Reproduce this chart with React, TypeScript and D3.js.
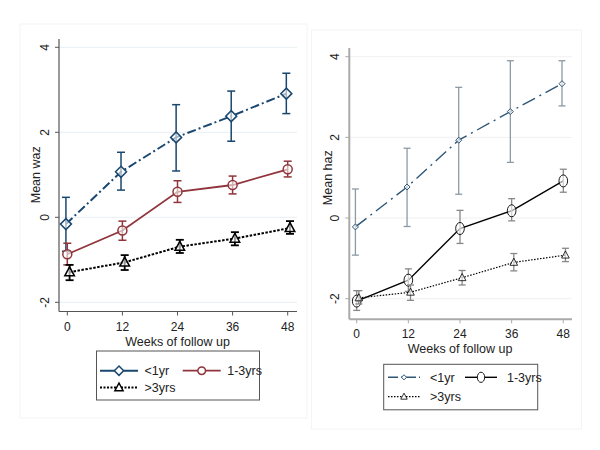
import React, { useEffect, useRef } from 'react';
import * as d3 from 'd3';

// weeks of follow up
const weeks = [0, 12, 24, 36, 48];
const weekTicks = [0, 12, 24, 36, 48];
const yTicks = [-2, 0, 2, 4];
const groups = ['<1yr', '1-3yrs', '>3yrs'];
// small horizontal dodge per group (weeks)
const dodge = [-0.3, 0, 0.5];

// mean waz (left panel) with CI
const wazLt1 = [-0.16, 1.07, 1.88, 2.38, 2.91];
const wazLt1Lo = [-0.8, 0.64, 1.09, 1.79, 2.44];
const wazLt1Hi = [0.47, 1.53, 2.65, 2.97, 3.39];
const waz13 = [-0.87, -0.31, 0.6, 0.76, 1.13];
const waz13Lo = [-1.12, -0.54, 0.35, 0.55, 0.95];
const waz13Hi = [-0.61, -0.09, 0.86, 0.97, 1.32];
const wazGt3 = [-1.29, -1.06, -0.69, -0.5, -0.25];
const wazGt3Lo = [-1.48, -1.24, -0.84, -0.66, -0.39];
const wazGt3Hi = [-1.12, -0.89, -0.53, -0.35, -0.09];

// mean haz (right panel) with CI
const hazLt1 = [-0.22, 0.77, 1.93, 2.64, 3.33];
const hazLt1Lo = [-0.92, -0.21, 0.59, 1.38, 2.78];
const hazLt1Hi = [0.72, 1.73, 3.24, 3.9, 3.9];
const haz13 = [-2.06, -1.54, -0.26, 0.18, 0.92];
const haz13Lo = [-2.29, -1.82, -0.63, -0.07, 0.64];
const haz13Hi = [-1.8, -1.26, 0.19, 0.48, 1.21];
const hazGt3 = [-1.98, -1.84, -1.48, -1.1, -0.92];
const hazGt3Lo = [-2.13, -2.04, -1.66, -1.31, -1.08];
const hazGt3Hi = [-1.8, -1.66, -1.3, -0.88, -0.75];

const FONT = 'Arial, "Liberation Sans", sans-serif';

function markerPath(kind, size) {
  if (kind === 'diamond') {
    return `M0,${-size}L${size},0L0,${size}L${-size},0Z`;
  }
  if (kind === 'triangle') {
    const h = size * 1.1;
    return `M0,${-h}L${size},${h * 0.7}L${-size},${h * 0.7}Z`;
  }
  if (kind === 'ellipse') {
    const rx = size * 0.72, ry = size;
    return `M${-rx},0A${rx},${ry} 0 1,0 ${rx},0A${rx},${ry} 0 1,0 ${-rx},0Z`;
  }
  return d3.arc()({ innerRadius: 0, outerRadius: size, startAngle: 0, endAngle: Math.PI * 2 });
}

function drawPanel(svg, p) {
  const g = svg.append('g');
  const x = d3.scaleLinear().domain([0, 48]).range(p.xRange);
  const y = d3.scaleLinear().domain([-2, 4]).range(p.yRange);

  // faint panel frame
  g.append('rect')
    .attr('x', p.frame[0]).attr('y', p.frame[1])
    .attr('width', p.frame[2]).attr('height', p.frame[3])
    .attr('fill', 'none').attr('stroke', '#f3f4f6').attr('stroke-width', 1);

  // grid
  g.selectAll('.grid').data(yTicks).enter().append('line')
    .attr('x1', p.axisX).attr('x2', p.plotRight)
    .attr('y1', d => y(d)).attr('y2', d => y(d))
    .attr('stroke', p.gridColor).attr('stroke-width', 1);

  // axes
  g.append('line').attr('x1', p.axisX).attr('x2', p.axisX)
    .attr('y1', p.axisTop).attr('y2', p.axisBottom)
    .attr('stroke', p.axisColor).attr('stroke-width', p.axisWidth);
  g.append('line').attr('x1', p.axisX).attr('x2', p.plotRight)
    .attr('y1', p.axisBottom).attr('y2', p.axisBottom)
    .attr('stroke', p.axisColor).attr('stroke-width', p.axisWidth);

  // y ticks + rotated labels
  g.selectAll('.ytick').data(yTicks).enter().append('line')
    .attr('x1', p.axisX - 4).attr('x2', p.axisX)
    .attr('y1', d => y(d)).attr('y2', d => y(d))
    .attr('stroke', p.axisColor).attr('stroke-width', 1);
  g.selectAll('.ylab').data(yTicks).enter().append('text')
    .attr('transform', d => `translate(${p.axisX - 10},${y(d)}) rotate(-90)`)
    .attr('text-anchor', 'middle')
    .attr('font-family', FONT).attr('font-size', 12).attr('fill', '#222')
    .text(d => d);

  // x ticks + labels
  g.selectAll('.xtick').data(weekTicks).enter().append('line')
    .attr('x1', d => x(d)).attr('x2', d => x(d))
    .attr('y1', p.axisBottom).attr('y2', p.axisBottom + 4)
    .attr('stroke', p.axisColor).attr('stroke-width', 1);
  g.selectAll('.xlab').data(weekTicks).enter().append('text')
    .attr('x', d => x(d)).attr('y', p.axisBottom + 19)
    .attr('text-anchor', 'middle')
    .attr('font-family', FONT).attr('font-size', 12).attr('fill', '#222')
    .text(d => d);

  g.append('text')
    .attr('x', (p.xRange[0] + p.xRange[1]) / 2).attr('y', p.axisBottom + 34)
    .attr('text-anchor', 'middle')
    .attr('font-family', FONT).attr('font-size', 12.5).attr('fill', '#222')
    .text('Weeks of follow up');

  g.append('text')
    .attr('transform', `translate(${p.yTitleX},${(y(-2) + y(4)) / 2}) rotate(-90)`)
    .attr('text-anchor', 'middle')
    .attr('font-family', FONT).attr('font-size', 12.5).attr('fill', '#222')
    .text(p.yTitle);

  // series
  p.series.forEach((s, i) => {
    const pts = weeks.map((w, j) => ({ w: w + dodge[i], m: s.mean[j], lo: s.lo[j], hi: s.hi[j] }));
    const line = d3.line().x(d => x(d.w)).y(d => y(d.m));
    g.append('path').attr('d', line(pts))
      .attr('fill', 'none').attr('stroke', s.color)
      .attr('stroke-width', s.width).attr('stroke-dasharray', s.dash);

    const eb = g.append('g');
    pts.forEach(d => {
      eb.append('line').attr('x1', x(d.w)).attr('x2', x(d.w))
        .attr('y1', y(d.lo)).attr('y2', y(d.hi))
        .attr('stroke', s.errColor).attr('stroke-width', s.errWidth);
      [d.lo, d.hi].forEach(v => {
        eb.append('line').attr('x1', x(d.w) - s.cap).attr('x2', x(d.w) + s.cap)
          .attr('y1', y(v)).attr('y2', y(v))
          .attr('stroke', s.errColor).attr('stroke-width', s.errWidth);
      });
    });

    g.selectAll(null).data(pts).enter().append('path')
      .attr('transform', d => `translate(${x(d.w)},${y(d.m)})`)
      .attr('d', markerPath(s.marker, s.msize))
      .attr('fill', 'white').attr('fill-opacity', 0.6)
      .attr('stroke', s.color).attr('stroke-width', s.mWidth);
  });

  // legend
  const L = p.legend;
  g.append('rect').attr('x', L.x).attr('y', L.y).attr('width', L.w).attr('height', L.h)
    .attr('fill', 'white').attr('stroke', '#555').attr('stroke-width', 1);
  p.series.forEach((s, i) => {
    const cx = L.cols[i % 2];
    const cy = L.rows[Math.floor(i / 2)];
    g.append('line').attr('x1', cx).attr('x2', cx + L.sw).attr('y1', cy).attr('y2', cy)
      .attr('stroke', s.color).attr('stroke-width', s.width)
      .attr('stroke-dasharray', s.legendDash);
    g.append('path').attr('transform', `translate(${cx + L.sw / 2},${cy})`)
      .attr('d', markerPath(s.marker, s.msize * 0.85))
      .attr('fill', 'white').attr('stroke', s.color).attr('stroke-width', s.mWidth);
    g.append('text').attr('x', cx + L.sw + L.gap).attr('y', cy + 4.5)
      .attr('font-family', FONT).attr('font-size', 12.5).attr('fill', '#222')
      .text(groups[i]);
  });
}

export default function App() {
  const ref = useRef(null);

  useEffect(() => {
    const svg = d3.select(ref.current);
    svg.selectAll('*').remove();

    drawPanel(svg, {
      xRange: [67.3, 287.7], yRange: [302.3, 47.3],
      axisX: 59, axisTop: 39, axisBottom: 311.5, plotRight: 297,
      frame: [20, 24, 287, 394],
      axisColor: '#555', axisWidth: 1.2, gridColor: '#e8eef4',
      yTitle: 'Mean waz', yTitleX: 40,
      series: [
        { mean: wazLt1, lo: wazLt1Lo, hi: wazLt1Hi, color: '#1a476f', errColor: '#1a476f', width: 2, dash: '9,3,2,3', legendDash: null, marker: 'diamond', msize: 5.5, mWidth: 1.5, errWidth: 1.5, cap: 4 },
        { mean: waz13, lo: waz13Lo, hi: waz13Hi, color: '#90353b', errColor: '#90353b', width: 1.8, dash: null, legendDash: null, marker: 'circle', msize: 4.5, mWidth: 1.5, errWidth: 1.5, cap: 4 },
        { mean: wazGt3, lo: wazGt3Lo, hi: wazGt3Hi, color: '#000', errColor: '#000', width: 2, dash: '2.5,1.5', legendDash: '2,1.5', marker: 'triangle', msize: 4.8, mWidth: 1.5, errWidth: 1.8, cap: 4 },
      ],
      legend: { x: 96.5, y: 351, w: 163, h: 49, rows: [370.7, 387.5], cols: [100, 182.7], sw: 38, gap: 6.5 },
    });

    drawPanel(svg, {
      xRange: [356.7, 563.3], yRange: [298.7, 56.7],
      axisX: 349.3, axisTop: 48, axisBottom: 319.3, plotRight: 572,
      frame: [311.5, 30, 270, 399],
      axisColor: '#aaa', axisWidth: 2, gridColor: '#f0f0f0',
      yTitle: 'Mean haz', yTitleX: 332,
      series: [
        { mean: hazLt1, lo: hazLt1Lo, hi: hazLt1Hi, color: '#2e5677', errColor: '#8c9aa3', width: 1.4, dash: '14,5,2,5', legendDash: '10,3,2,3', marker: 'diamond', msize: 3, mWidth: 1, errWidth: 1.3, cap: 3.5 },
        { mean: haz13, lo: haz13Lo, hi: haz13Hi, color: '#000', errColor: '#888', width: 1.4, dash: null, legendDash: null, marker: 'ellipse', msize: 6, mWidth: 0.9, errWidth: 1.3, cap: 3.5 },
        { mean: hazGt3, lo: hazGt3Lo, hi: hazGt3Hi, color: '#000', errColor: '#888', width: 1.2, dash: '1.5,1.5', legendDash: '1.5,1.5', marker: 'triangle', msize: 3.8, mWidth: 0.8, errWidth: 1.3, cap: 3.5 },
      ],
      legend: { x: 383.7, y: 364.3, w: 154, h: 45.5, rows: [377.3, 396.7], cols: [388, 465], sw: 32, gap: 10 },
    });
  }, []);

  return (
    <svg ref={ref} width={600} height={450}
      style={{ position: 'absolute', left: 0, top: 0, background: 'white' }} />
  );
}
